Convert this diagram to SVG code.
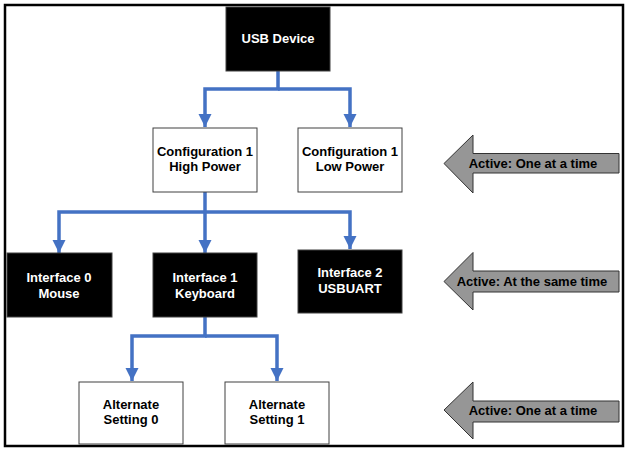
<svg xmlns="http://www.w3.org/2000/svg" width="628" height="453" viewBox="0 0 628 453">
<defs>
<style>
.t{font-family:"Liberation Sans",Arial,sans-serif;font-weight:bold;font-size:13px;text-anchor:middle}
.dk rect{fill:#000;stroke:#404040;stroke-width:1}
.dk text{fill:#fff}
.lt rect{fill:#fff;stroke:#404040;stroke-width:1}
.lt text{fill:#000}
.con{fill:none;stroke:#4472c4;stroke-width:3.5}
.big path{fill:#969696;stroke:#333;stroke-width:1}
.big text{fill:#000}
</style>
<marker id="ah" viewBox="0 0 10 10" refX="10" refY="5" markerWidth="3.8" markerHeight="3.8" markerUnits="strokeWidth" orient="auto">
<path d="M0,0 L10,5 L0,10 Z" fill="#4472c4"/>
</marker>
</defs>
<rect x="5" y="5" width="618" height="441" fill="#fff" stroke="#000" stroke-width="2.5"/>
<g id="connectors">
<path class="con" d="M278,71 V89 H205 V127" marker-end="url(#ah)"/>
<path class="con" d="M278,89 H350 V127" marker-end="url(#ah)"/>
<path class="con" d="M205,192 V253" marker-end="url(#ah)"/>
<path class="con" d="M205,212 H59 V253" marker-end="url(#ah)"/>
<path class="con" d="M205,212 H350 V249" marker-end="url(#ah)"/>
<path class="con" d="M205,317 V336 H132 V381" marker-end="url(#ah)"/>
<path class="con" d="M205,336 H277 V381" marker-end="url(#ah)"/>
</g>
<g id="usb-device" class="dk"><rect x="226" y="7" width="104" height="64"/><text class="t" x="278" y="43">USB Device</text></g>
<g id="config-high" class="lt"><rect x="153" y="128" width="104" height="64"/><text class="t" x="205" y="156">Configuration 1</text><text class="t" x="205" y="171">High Power</text></g>
<g id="config-low" class="lt"><rect x="298" y="128" width="104" height="64"/><text class="t" x="350" y="156">Configuration 1</text><text class="t" x="350" y="171">Low Power</text></g>
<g id="iface0" class="dk"><rect x="7" y="253" width="105" height="64"/><text class="t" x="59" y="282">Interface 0</text><text class="t" x="59" y="298">Mouse</text></g>
<g id="iface1" class="dk"><rect x="153" y="253" width="104" height="64"/><text class="t" x="205" y="282">Interface 1</text><text class="t" x="205" y="298">Keyboard</text></g>
<g id="iface2" class="dk"><rect x="298" y="250" width="104" height="63"/><text class="t" x="350" y="277">Interface 2</text><text class="t" x="350" y="293">USBUART</text></g>
<g id="alt0" class="lt"><rect x="79" y="382" width="104" height="62"/><text class="t" x="131" y="409">Alternate</text><text class="t" x="131" y="424">Setting 0</text></g>
<g id="alt1" class="lt"><rect x="225" y="382" width="104" height="62"/><text class="t" x="277" y="409">Alternate</text><text class="t" x="277" y="424">Setting 1</text></g>
<g id="arrow-config" class="big"><path d="M444,163.5 L473,135 V153.5 H619 V173 H473 V193 Z"/><text class="t" x="533" y="168">Active: One at a time</text></g>
<g id="arrow-iface" class="big"><path d="M444,281.5 L473,252.5 V271 H619 V292 H473 V310 Z"/><text class="t" x="532" y="286">Active: At the same time</text></g>
<g id="arrow-alt" class="big"><path d="M444,410 L473,382 V401 H619 V422 H473 V439 Z"/><text class="t" x="533" y="415">Active: One at a time</text></g>
</svg>
